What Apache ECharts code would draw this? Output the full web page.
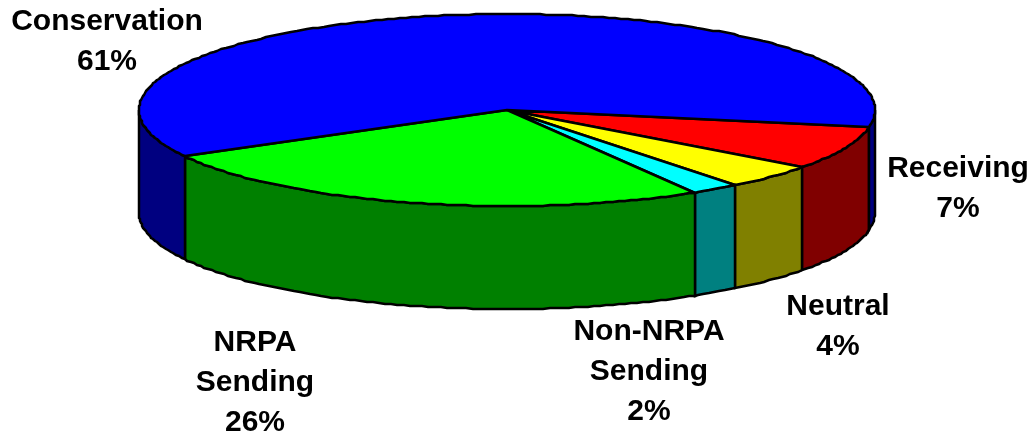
<!DOCTYPE html>
<html style="height: 100%">
<head>
	<meta charset="utf-8">
	<title></title>
	<script type="text/javascript" src="https://cdn.jsdelivr.net/npm/echarts@6/dist/echarts.min.js"></script>
</head>
<body style="height: 100%; margin: 0; background: #fff">
<div id="container" style="width: 1030px; height: 438px"></div>
<script type="text/javascript">
	var categories = ['Receiving', 'Neutral', 'Non-NRPA\nSending', 'NRPA\nSending', 'Conservation'];
	// slice sizes, the labels show them rounded
	var values = [7.4, 4.2, 2.1, 25.5, 60.8];
	var topColors = ['#ff0000', '#ffff00', '#00ffff', '#00ff00', '#0000ff'];
	var sideColors = ['#800000', '#808000', '#008080', '#008000', '#000080'];

	// disc geometry in pixels
	var cx = 507, cy = 110, rx = 368, ry = 96, depth = 103;
	var startAngle = 10;
	var labelPos = [[958, 189], [838, 327], [649, 372], [255, 383], [107, 42]];

	var total = values.reduce(function (a, b) { return a + b; }, 0);

	function rim(t, dy) {
		var a = t * Math.PI / 180;
		return [Math.round(cx + rx * Math.cos(a)), Math.round(cy + dy + ry * Math.sin(a))];
	}

	// wall of the disc between two angles, only the front half shows
	function wall(from, to, color) {
		var pts = [], back = [], t;
		for (t = from; t < to; t += 1) {
			pts.push(rim(t, 0));
			back.unshift(rim(t, depth));
		}
		pts.push(rim(to, 0));
		back.unshift(rim(to, depth));
		return {
			type: 'polygon',
			shape: { points: pts.concat(back) },
			style: { fill: color, stroke: '#000', lineWidth: 2.5 }
		};
	}

	function renderSlice(params, api) {
		var i = params.dataIndex;
		var before = 0;
		for (var k = 0; k < i; k++) before += values[k];
		var from = startAngle + before / total * 360;
		var to = from + api.value(0) / total * 360;
		var children = [];

		// visible ranges of the wall: 0-180 and 360-540
		[[0, 180], [360, 540]].forEach(function (r) {
			var a = Math.max(from, r[0]), b = Math.min(to, r[1]);
			if (b > a) children.push(wall(a, b, sideColors[i]));
		});

		var pts = [[cx, cy]];
		for (var t = from; t < to; t += 1) pts.push(rim(t, 0));
		pts.push(rim(to, 0));
		children.push({
			type: 'polygon',
			shape: { points: pts },
			style: { fill: topColors[i], stroke: '#000', lineWidth: 2.5, lineJoin: 'round' }
		});

		children.push({
			type: 'text',
			z2: 10,
			style: {
				text: categories[i] + '\n' + Math.round(api.value(0)) + '%',
				x: labelPos[i][0],
				y: labelPos[i][1],
				align: 'center',
				verticalAlign: 'middle',
				font: 'bold 30px "Liberation Sans", Arial, sans-serif',
				lineHeight: 40,
				fill: '#000'
			}
		});
		return { type: 'group', children: children };
	}

	var myChart = echarts.init(document.getElementById('container'));
	myChart.setOption({
		animation: false,
		series: [{
			type: 'custom',
			coordinateSystem: 'none',
			renderItem: renderSlice,
			data: values.map(function (v, i) { return { name: categories[i], value: [v] }; })
		}]
	});
</script>
</body>
</html>
